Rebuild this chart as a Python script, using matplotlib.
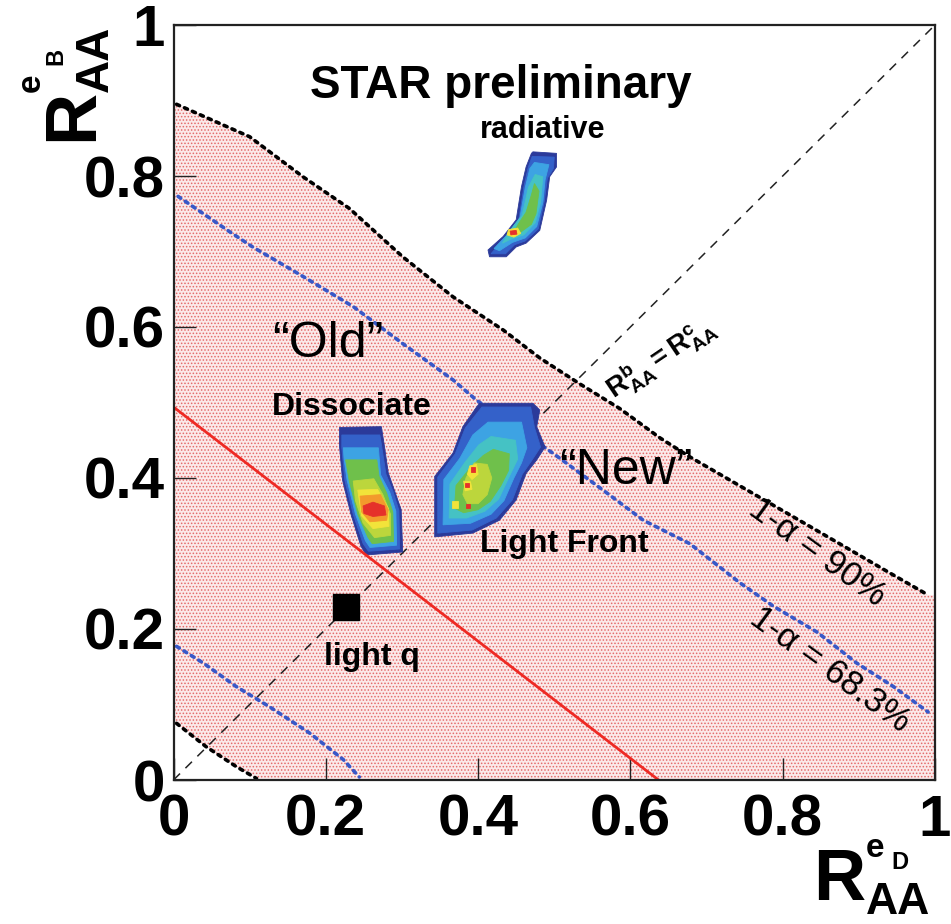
import numpy as np
import matplotlib
matplotlib.use("Agg")
import matplotlib.pyplot as plt

plt.rcParams['font.family'] = ['Liberation Sans', 'DejaVu Sans']
plt.rcParams['mathtext.fontset'] = 'custom'
plt.rcParams['mathtext.rm'] = 'Liberation Sans'
plt.rcParams['mathtext.bf'] = 'Liberation Sans:bold'
plt.rcParams['mathtext.it'] = 'Liberation Sans:italic'
plt.rcParams['hatch.linewidth'] = 0.7

# ---------------- data ----------------
tick_values = [0, 0.2, 0.4, 0.6, 0.8, 1.0]
tick_labels = ['0', '0.2', '0.4', '0.6', '0.8', '1']

# 90% CL contour (upper and lower branch)
cl90_hi_x = [0.004, 0.100, 0.170, 0.231, 0.301, 0.367, 0.433, 0.481, 0.533, 0.586,
             0.639, 0.678, 0.832, 0.941, 0.991]
cl90_hi_y = [0.895, 0.852, 0.799, 0.757, 0.693, 0.640, 0.596, 0.559, 0.525, 0.492,
             0.453, 0.428, 0.338, 0.274, 0.245]
cl90_lo_x = [0.004, 0.043, 0.082, 0.109]
cl90_lo_y = [0.075, 0.044, 0.018, 0.002]

# 68.3% CL contour (upper and lower branch)
cl68_hi_x = [0.006, 0.074, 0.104, 0.170, 0.236, 0.301, 0.367, 0.398, 0.498, 0.564,
             0.617, 0.678, 0.744, 0.788, 0.845, 0.897, 0.945, 0.991]
cl68_hi_y = [0.773, 0.726, 0.706, 0.667, 0.627, 0.578, 0.530, 0.503, 0.433, 0.384,
             0.344, 0.313, 0.261, 0.230, 0.196, 0.155, 0.124, 0.090]
cl68_lo_x = [0.004, 0.039, 0.082, 0.126, 0.179, 0.223, 0.244]
cl68_lo_y = [0.177, 0.155, 0.124, 0.097, 0.062, 0.027, 0.004]

# best-fit line
fit_x = [0.0, 0.637]
fit_y = [0.494, 0.0]

# light-quark point
lightq_x = [0.2265]
lightq_y = [0.229]

# model predictions: nested contour levels (outermost first)
level_colors = ['#2b3a9a', '#3461c9', '#3da3e3', '#45c2c4', '#6fc04b',
                '#bcd63c', '#f2e33a', '#f39a2c', '#e5312a']

dissociate_levels = [
    (0, [(0.218, 0.467), (0.273, 0.468), (0.277, 0.442), (0.282, 0.407), (0.290, 0.384),
         (0.299, 0.358), (0.301, 0.302), (0.253, 0.298), (0.246, 0.310), (0.233, 0.352),
         (0.222, 0.397), (0.218, 0.442)]),
    (1, [(0.221, 0.457), (0.271, 0.457), (0.274, 0.438), (0.279, 0.405), (0.288, 0.383),
         (0.296, 0.357), (0.297, 0.306), (0.256, 0.303), (0.249, 0.313), (0.236, 0.352),
         (0.225, 0.397), (0.221, 0.440)]),
    (2, [(0.223, 0.440), (0.269, 0.440), (0.272, 0.404), (0.284, 0.381), (0.292, 0.356),
         (0.293, 0.311), (0.258, 0.308), (0.252, 0.317), (0.239, 0.352), (0.228, 0.397),
         (0.224, 0.425)]),
    (4, [(0.226, 0.424), (0.267, 0.424), (0.270, 0.402), (0.280, 0.380), (0.288, 0.355),
         (0.289, 0.316), (0.261, 0.313), (0.255, 0.322), (0.242, 0.352), (0.231, 0.395)]),
    (5, [(0.236, 0.396), (0.263, 0.399), (0.275, 0.378), (0.285, 0.352), (0.285, 0.324),
         (0.264, 0.321), (0.249, 0.340), (0.239, 0.370)]),
    (6, [(0.242, 0.384), (0.268, 0.385), (0.282, 0.360), (0.283, 0.336), (0.262, 0.333),
         (0.247, 0.350)]),
    (7, [(0.245, 0.376), (0.272, 0.378), (0.282, 0.358), (0.280, 0.344), (0.258, 0.342),
         (0.247, 0.355)]),
    (8, [(0.249, 0.363), (0.262, 0.368), (0.277, 0.363), (0.279, 0.351), (0.262, 0.349),
         (0.250, 0.353)]),
]

lightfront_levels = [
    (0, [(0.402, 0.499), (0.472, 0.499), (0.481, 0.490), (0.477, 0.468), (0.488, 0.441),
         (0.477, 0.424), (0.463, 0.406), (0.450, 0.371), (0.428, 0.344), (0.393, 0.327),
         (0.343, 0.322), (0.343, 0.402), (0.367, 0.433), (0.380, 0.468), (0.398, 0.494)]),
    (1, [(0.405, 0.494), (0.469, 0.494), (0.474, 0.467), (0.482, 0.441), (0.471, 0.424),
         (0.458, 0.405), (0.445, 0.371), (0.424, 0.347), (0.392, 0.331), (0.347, 0.327),
         (0.347, 0.401), (0.370, 0.432), (0.383, 0.466)]),
    (2, [(0.413, 0.474), (0.457, 0.474), (0.464, 0.440), (0.457, 0.420), (0.447, 0.400),
         (0.434, 0.370), (0.417, 0.352), (0.390, 0.340), (0.354, 0.338), (0.355, 0.398),
         (0.376, 0.426), (0.393, 0.457)]),
    (3, [(0.417, 0.455), (0.449, 0.450), (0.452, 0.425), (0.440, 0.400), (0.427, 0.372),
         (0.409, 0.356), (0.385, 0.347), (0.362, 0.347), (0.363, 0.392), (0.383, 0.421),
         (0.401, 0.444)]),
    (4, [(0.420, 0.438), (0.441, 0.432), (0.440, 0.410), (0.430, 0.390), (0.416, 0.369),
         (0.400, 0.358), (0.381, 0.354), (0.369, 0.360), (0.371, 0.390), (0.390, 0.414),
         (0.407, 0.430)]),
    (5, [(0.395, 0.420), (0.412, 0.418), (0.418, 0.400), (0.412, 0.378), (0.400, 0.366),
         (0.386, 0.366), (0.380, 0.378), (0.384, 0.400)]),
    (6, [(0.389, 0.416), (0.398, 0.418), (0.400, 0.405), (0.392, 0.398), (0.386, 0.405)]),
    (6, [(0.381, 0.396), (0.390, 0.395), (0.392, 0.385), (0.383, 0.383)]),
    (6, [(0.366, 0.370), (0.374, 0.370), (0.374, 0.360), (0.366, 0.360)]),
    (8, [(0.391, 0.414), (0.396, 0.414), (0.396, 0.408), (0.391, 0.408)]),
    (8, [(0.383, 0.393), (0.388, 0.393), (0.388, 0.388), (0.383, 0.388)]),
    (8, [(0.384, 0.365), (0.389, 0.365), (0.389, 0.360), (0.384, 0.360)]),
]

radiative_levels = [
    (0, [(0.472, 0.832), (0.503, 0.830), (0.503, 0.812), (0.494, 0.799), (0.490, 0.768),
         (0.481, 0.728), (0.463, 0.711), (0.450, 0.706), (0.437, 0.693), (0.415, 0.693),
         (0.413, 0.702), (0.433, 0.720), (0.450, 0.742), (0.457, 0.786), (0.463, 0.812),
         (0.470, 0.830)]),
    (1, [(0.471, 0.826), (0.500, 0.825), (0.499, 0.810), (0.491, 0.797), (0.487, 0.767),
         (0.479, 0.730), (0.462, 0.714), (0.448, 0.709), (0.436, 0.697), (0.417, 0.697),
         (0.434, 0.717), (0.453, 0.739), (0.460, 0.785), (0.466, 0.812)]),
    (2, [(0.474, 0.818), (0.493, 0.815), (0.488, 0.795), (0.485, 0.765), (0.477, 0.733),
         (0.462, 0.718), (0.445, 0.712), (0.428, 0.701), (0.421, 0.704), (0.438, 0.722),
         (0.455, 0.745), (0.462, 0.785), (0.468, 0.810)]),
    (3, [(0.475, 0.802), (0.485, 0.799), (0.482, 0.765), (0.475, 0.738), (0.460, 0.722),
         (0.442, 0.716), (0.432, 0.711), (0.442, 0.728), (0.458, 0.748), (0.466, 0.785)]),
    (4, [(0.474, 0.790), (0.480, 0.780), (0.476, 0.750), (0.470, 0.736), (0.455, 0.725),
         (0.445, 0.722), (0.452, 0.735), (0.463, 0.752), (0.470, 0.775)]),
    (6, [(0.440, 0.729), (0.452, 0.731), (0.456, 0.724), (0.447, 0.719), (0.438, 0.722)]),
    (8, [(0.442, 0.727), (0.450, 0.728), (0.451, 0.723), (0.443, 0.722)]),
]

# ---------------- figure ----------------
W, H = 951, 924
fig = plt.figure(figsize=(W / 100, H / 100), dpi=100)
ax = fig.add_axes([173.5 / W, 1 - 780 / H, (935 - 173.5) / W, (780 - 25) / H])
ax.set_xlim(0, 1)
ax.set_ylim(0, 1)
xmin, xmax = ax.get_xlim()
ymin, ymax = ax.get_ylim()

# allowed region between the 90% CL branches
poly_x = ([xmin] + cl90_hi_x + [xmax, xmax] + cl90_lo_x[::-1] + [xmin])
poly_y = ([cl90_hi_y[0]] + cl90_hi_y + [cl90_hi_y[-1], ymin] + cl90_lo_y[::-1] + [cl90_lo_y[0]])
ax.fill(poly_x, poly_y, facecolor='#fbe9e9', edgecolor='#e46a6a', hatch='.....', lw=0, zorder=1)

dot_black = dict(color='black', lw=2.6, linestyle=(0, (0.9, 1.5)), dash_capstyle='round', zorder=3)
dot_blue = dict(color='#3858c8', lw=2.6, linestyle=(0, (0.9, 1.5)), dash_capstyle='round', zorder=3)
ax.plot(cl90_hi_x, cl90_hi_y, **dot_black)
ax.plot(cl90_lo_x, cl90_lo_y, **dot_black)
ax.plot(cl68_hi_x, cl68_hi_y, **dot_blue)
ax.plot(cl68_lo_x, cl68_lo_y, **dot_blue)

# R_b = R_c diagonal
ax.plot([xmin, xmax], [ymin, ymax], color='#222222', lw=1.1, linestyle=(0, (6, 5)), zorder=2)

def draw_levels(levels, z):
    for idx, pts in levels:
        xs, ys = zip(*pts)
        ax.fill(xs, ys, color=level_colors[idx], lw=0.6, ec=level_colors[idx], zorder=z)

draw_levels(dissociate_levels, 4)
draw_levels(lightfront_levels, 4)
draw_levels(radiative_levels, 4)

ax.plot(fit_x, fit_y, color='#ee2a24', lw=2.0, zorder=5)
ax.plot(lightq_x, lightq_y, 's', color='black', ms=19, zorder=6)

# axes styling
for s in ax.spines.values():
    s.set_linewidth(1.6)
    s.set_color('#222222')
    s.set_zorder(10)
ax.set_xticks(tick_values)
ax.set_yticks(tick_values)
ax.set_xticklabels(tick_labels)
ax.set_yticklabels(tick_labels)
ax.tick_params(direction='in', length=16, width=1.0, color='#222222',
               labelsize=42, top=False, right=False)
ax.tick_params(axis='x', pad=10)
ax.tick_params(axis='y', pad=6)
for lab in ax.get_xticklabels() + ax.get_yticklabels():
    lab.set_fontweight('bold')

# annotations
ax.text(0.179, 0.903, 'STAR preliminary', fontsize=33, fontweight='bold',
        ha='left', va='baseline', zorder=8)
ax.text(0.402, 0.850, 'radiative', fontsize=22, fontweight='bold', ha='left', va='baseline')
ax.text(0.129, 0.483, 'Dissociate', fontsize=23, fontweight='bold', ha='left', va='baseline')
ax.text(0.402, 0.302, 'Light Front', fontsize=23, fontweight='bold', ha='left', va='baseline', zorder=8)
ax.text(0.198, 0.152, 'light q', fontsize=23, fontweight='bold', ha='left', va='baseline')
ax.text(0.129, 0.560, '\u201cOld\u201d', fontsize=36, ha='left', va='baseline', zorder=8)
ax.text(0.507, 0.392, '\u201cNew\u201d', fontsize=36, ha='left', va='baseline', zorder=8)
ax.text(0.845, 0.301, '1-\u03b1 = 90%', fontsize=25, rotation=-36, rotation_mode='anchor',
        ha='center', va='center', zorder=8)
ax.text(0.862, 0.146, '1-\u03b1 = 68.3%', fontsize=25, rotation=-36, rotation_mode='anchor',
        ha='center', va='center', zorder=8)
ax.text(0.639, 0.560, r'$\mathbf{R^{b}_{AA}=R^{c}_{AA}}$', fontsize=20, rotation=34,
        rotation_mode='anchor', ha='center', va='center', zorder=8)

def fpx(xp, yp):
    return xp / W, 1 - yp / H

# y axis title: R_AA^{e_B}
ya = dict(rotation=90, rotation_mode='anchor', ha='left', va='baseline', fontweight='bold')
fig.text(*fpx(92, 141), 'R', fontsize=52, **ya)
fig.text(*fpx(108, 92), 'AA', fontsize=33, **ya)
fig.text(*fpx(40, 92), 'e', fontsize=24, **ya)
fig.text(*fpx(62, 65), 'B', fontsize=17, **ya)

# x axis title: R_AA^{e_D}
xa = dict(ha='left', va='baseline', fontweight='bold')
fig.text(*fpx(813, 900), 'R', fontsize=52, **xa)
fig.text(*fpx(866, 914), 'AA', fontsize=32, **xa)
fig.text(*fpx(866, 857), 'e', fontsize=24, **xa)
fig.text(*fpx(891, 869), 'D', fontsize=17, **xa)

fig.savefig('out.png', dpi=100)
